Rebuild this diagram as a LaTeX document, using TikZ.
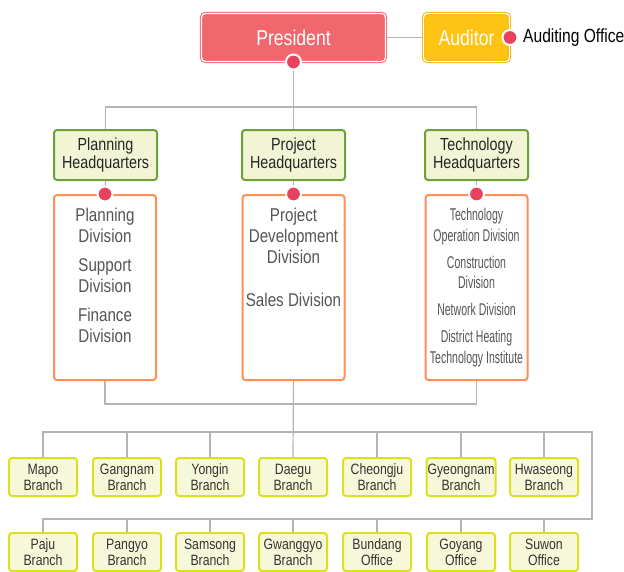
\documentclass[tikz,border=0pt]{standalone}
\usepackage{fontspec}
\setmainfont{Liberation Sans}[FakeStretch=0.82]
\newfontfamily\narrowfont{Liberation Sans}[FakeStretch=0.62]
\definecolor{presred}{HTML}{F0686D}
\definecolor{audyellow}{HTML}{FFC413}
\definecolor{audedge}{HTML}{F7B50A}
\definecolor{dotred}{HTML}{E8435C}
\definecolor{hqgreen}{HTML}{6DA13A}
\definecolor{hqfill}{HTML}{F2F5D5}
\definecolor{divorange}{HTML}{FF8F55}
\definecolor{brline}{HTML}{DCE11E}
\definecolor{brfill}{HTML}{F7F8DA}
\definecolor{linegray}{HTML}{B4B4B4}
\definecolor{divtext}{HTML}{555555}
\begin{document}
\begin{tikzpicture}[x=1pt,y=-1pt]
      \useasboundingbox (0,0) rectangle (624,571);

      \coordinate (top)   at (293,107);
      \coordinate (low)   at (293,404);
      \coordinate (turn1) at (592,432);
      \coordinate (turn2) at (592,519);

      \begin{scope}[every node/.style={rounded corners=4pt, double=white, double distance=1.2pt, line width=1pt, text=white, minimum height=48, font=\fontsize{21.5}{24}\selectfont}]
        \node[draw=presred, fill=presred, minimum width=184] (pres) at (293.5,37.5) {President};
        \node[draw=audedge, fill=audyellow, minimum width=86] (aud) at (466.5,37.5) {Auditor};
      \end{scope}
      \node[anchor=west, inner sep=0pt, font=\fontsize{19}{22}\selectfont] (audoff) at (523,38) {Auditing Office};

      \begin{scope}[every node/.style={rounded corners=3pt, draw=hqgreen, fill=hqfill, line width=2pt, minimum width=103, minimum height=50, align=center, text=black!85, font=\fontsize{17.5}{18}\selectfont}]
        \node (hq1) at (105.5,155) {Planning\\Headquarters};
        \node (hq2) at (293.5,155) {Project\\Headquarters};
        \node (hq3) at (476.5,155) {Technology\\Headquarters};
      \end{scope}

      \begin{scope}[every node/.style={rounded corners=3pt, draw=divorange, fill=white, line width=2pt, minimum width=102, minimum height=185}]
        \node (div1) at (105,287.5) {};
        \node (div2) at (293.5,287.5) {};
        \node (div3) at (476.5,287.5) {};
      \end{scope}

      \begin{scope}[every node/.style={anchor=north, inner sep=0pt, align=center, text=divtext}]
        \node[font=\fontsize{18.5}{21}\selectfont] (txt1) at (105,208) {Planning\\Division\\[8pt]Support\\Division\\[8pt]Finance\\Division};
        \node[font=\fontsize{18.5}{21}\selectfont] (txt2) at (293.5,208) {Project\\Development\\Division\\[22pt]Sales Division};
        \node[font=\narrowfont\fontsize{17}{20.5}\selectfont] (txt3) at (476.5,208) {Technology\\Operation Division\\[6.5pt]Construction\\Division\\[6.5pt]Network Division\\[6.5pt]District Heating\\Technology Institute};
      \end{scope}

      \begin{scope}[every node/.style={rounded corners=3pt, draw=brline, fill=brfill, line width=2pt, minimum width=68, minimum height=38, align=center, inner sep=1pt, text=black!80, font=\fontsize{15}{16}\selectfont}]
        \node (b1)  at (43,477)  {Mapo\\Branch};
        \node (b2)  at (127,477) {Gangnam\\Branch};
        \node (b3)  at (210,477) {Yongin\\Branch};
        \node (b4)  at (293,477) {Daegu\\Branch};
        \node (b5)  at (377,477) {Cheongju\\Branch};
        \node (b6)  at (461,477) {Gyeongnam\\Branch};
        \node (b7)  at (544,477) {Hwaseong\\Branch};
        \node (b8)  at (43,552)  {Paju\\Branch};
        \node (b9)  at (127,552) {Pangyo\\Branch};
        \node (b10) at (210,552) {Samsong\\Branch};
        \node (b11) at (293,552) {Gwanggyo\\Branch};
        \node (b12) at (377,552) {Bundang\\Office};
        \node (b13) at (461,552) {Goyang\\Office};
        \node (b14) at (544,552) {Suwon\\Office};
      \end{scope}

      \begin{scope}[every path/.style={draw=linegray, line width=1.2pt}]
        \draw (pres.east) -- (aud.west);
        \draw (pres.south) -- (hq2.north);
        \draw (hq1.north) |- (top) -| (hq3.north);
        \draw (hq1.south) -- (div1.north);
        \draw (hq2.south) -- (div2.north);
        \draw (hq3.south) -- (div3.north);
        \draw (div1.south) |- (low) -| (div3.south);
        \draw (div2.south) -- (b4.north);
        \draw (b1.north) |- (turn1) -- (turn2) -| (b8.north);
        \path (b2.north) edge (b2.north |- turn1);
        \path (b3.north) edge (b3.north |- turn1);
        \path (b5.north) edge (b5.north |- turn1);
        \path (b6.north) edge (b6.north |- turn1);
        \path (b7.north) edge (b7.north |- turn1);
        \path (b9.north)  edge (b9.north |- turn2);
        \path (b10.north) edge (b10.north |- turn2);
        \path (b11.north) edge (b11.north |- turn2);
        \path (b12.north) edge (b12.north |- turn2);
        \path (b13.north) edge (b13.north |- turn2);
        \path (b14.north) edge (b14.north |- turn2);
      \end{scope}

      \begin{scope}[every node/.style={circle, fill=dotred, draw=white, line width=2pt, inner sep=0pt, minimum size=15}]
        \node (pdot) at (pres.south) {};
        \node (adot) at (aud.east) {};
        \node (d1) at (div1.north) {};
        \node (d2) at (div2.north) {};
        \node (d3) at (div3.north) {};
      \end{scope}

    \end{tikzpicture}
\end{document}
